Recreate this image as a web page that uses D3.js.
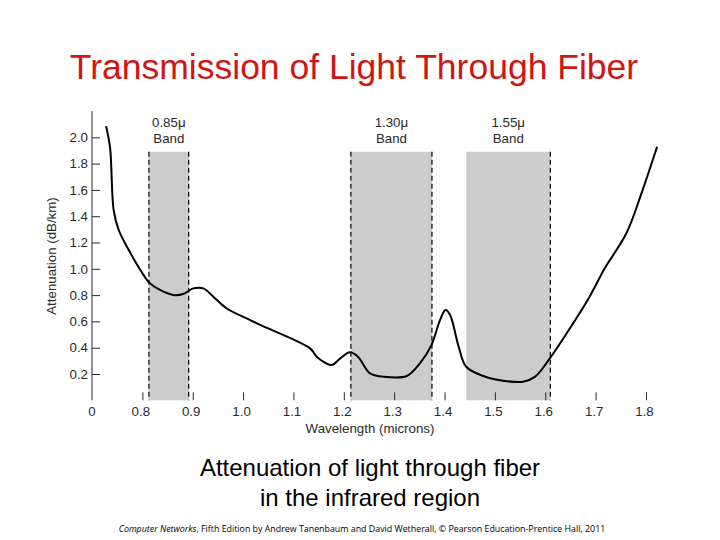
<!DOCTYPE html>
<html><head><meta charset="utf-8">
<script src="https://cdn.jsdelivr.net/npm/d3@7/dist/d3.min.js"></script>
<style>body{margin:0;background:#fff}svg{display:block}</style>
</head><body>
<svg id="c" width="720" height="540"></svg>
<script>
const wavelength = [0.728,0.736,0.743,0.753,0.773,0.796,0.815,0.835,0.861,0.881,0.901,0.921,0.941,0.967,1.014,1.034,1.133,1.146,1.159,1.176,1.193,1.212,1.228,1.252,1.278,1.325,1.351,1.374,1.391,1.402,1.411,1.428,1.443,1.477,1.516,1.556,1.58,1.609,1.649,1.688,1.709,1.718,1.761,1.791,1.822];
const attenuation = [2.085,1.916,1.447,1.295,1.143,0.991,0.89,0.839,0.801,0.808,0.851,0.851,0.788,0.70,0.61,0.573,0.395,0.332,0.294,0.268,0.319,0.365,0.332,0.205,0.18,0.185,0.281,0.42,0.61,0.687,0.649,0.408,0.255,0.185,0.149,0.141,0.18,0.319,0.548,0.788,0.94,1.004,1.27,1.574,1.928];
const xTicks = [0.8,0.9,1.0,1.1,1.2,1.3,1.4,1.5,1.6,1.7,1.8];
const yTicks = [0.2,0.4,0.6,0.8,1.0,1.2,1.4,1.6,1.8,2.0];
const bandStart = [0.813,1.214,1.443];
const bandEnd = [0.892,1.375,1.61];
const bandTop = [1.89,1.89,1.89];
const bandName = ["0.85\u03bc","1.30\u03bc","1.55\u03bc"];
const bandLeftDash = [true,true,false];

const svg = d3.select("#c");
const x = d3.scaleLinear().domain([0.7,1.8]).range([92,646]);
const y = d3.scaleLinear().domain([0,2.2]).range([400.3,111]);
const axisColor = "#2a2a2a";
const font = "Liberation Sans, Arial, sans-serif";
const fs = 13.3;

svg.append("text").attr("x",354).attr("y",78.5).attr("text-anchor","middle")
  .attr("font-family",font).attr("font-size",35.5).attr("fill","#d01515")
  .text("Transmission of Light Through Fiber");

// bands
const bands = d3.range(bandStart.length).map(i=>({s:bandStart[i],e:bandEnd[i],t:bandTop[i],n:bandName[i],l:bandLeftDash[i]}));
const bg = svg.append("g");
bg.selectAll("rect").data(bands).join("rect")
  .attr("x",d=>x(d.s)).attr("width",d=>x(d.e)-x(d.s))
  .attr("y",d=>y(d.t)).attr("height",d=>y(0)-y(d.t))
  .attr("fill","#cccccc");
bands.forEach(d=>{
  const xs = d.l ? [d.s,d.e] : [d.e];
  xs.forEach(v=>{
    bg.append("line").attr("x1",x(v)).attr("x2",x(v)).attr("y1",y(d.t)).attr("y2",y(0))
      .attr("stroke","#000").attr("stroke-width",1.2).attr("stroke-dasharray","5,3");
  });
  const cx = (x(d.s)+x(d.e))/2;
  bg.append("text").attr("x",cx).attr("y",127).attr("text-anchor","middle")
    .attr("font-family",font).attr("font-size",fs).attr("fill",axisColor).text(d.n);
  bg.append("text").attr("x",cx).attr("y",143).attr("text-anchor","middle")
    .attr("font-family",font).attr("font-size",fs).attr("fill",axisColor).text("Band");
});

// y axis
const yAxis = d3.axisRight(y).tickValues(yTicks).tickSize(8).tickFormat(d3.format(".1f"));
const ya = svg.append("g").attr("transform",`translate(${x(0.7)},0)`).call(yAxis);
ya.select(".domain").attr("d",`M0,${y(2.2)}V${y(0)}`).attr("stroke",axisColor);
ya.selectAll(".tick line").attr("stroke",axisColor);
ya.selectAll(".tick text").attr("x",-4).attr("text-anchor","end")
  .attr("font-family",font).attr("font-size",fs).attr("fill",axisColor);

// x axis
const xAxis = d3.axisTop(x).tickValues(xTicks).tickSize(8).tickFormat(d3.format(".1f"));
const xa = svg.append("g").attr("transform",`translate(0,${y(0)})`).call(xAxis);
xa.select(".domain").remove();
xa.selectAll(".tick line").attr("stroke",axisColor);
xa.selectAll(".tick text").attr("y",11).attr("dy","0.32em").attr("x",-2)
  .attr("font-family",font).attr("font-size",fs).attr("fill",axisColor);
svg.append("text").attr("x",x(0.7)).attr("y",y(0)+11).attr("dy","0.32em").attr("text-anchor","middle")
  .attr("font-family",font).attr("font-size",fs).attr("fill",axisColor).text("0");

svg.append("text").attr("x",370).attr("y",433).attr("text-anchor","middle")
  .attr("font-family",font).attr("font-size",fs).attr("fill",axisColor).text("Wavelength (microns)");
svg.append("text").attr("transform","translate(56,256) rotate(-90)").attr("text-anchor","middle")
  .attr("font-family",font).attr("font-size",fs).attr("fill",axisColor).text("Attenuation (dB/km)");

// curve
const pts = wavelength.map((w,i)=>[w,attenuation[i]]);
const line = d3.line().x(d=>x(d[0])).y(d=>y(d[1])).curve(d3.curveCatmullRom.alpha(0.5));
svg.append("path").attr("d",line(pts)).attr("fill","none").attr("stroke","#000").attr("stroke-width",2);

// captions
svg.append("text").attr("x",370).attr("y",476).attr("text-anchor","middle")
  .attr("font-family",font).attr("font-size",24).attr("fill","#000").text("Attenuation of light through fiber");
svg.append("text").attr("x",370).attr("y",506).attr("text-anchor","middle")
  .attr("font-family",font).attr("font-size",24).attr("fill","#000").text("in the infrared region");
const fn = svg.append("text").attr("x",362).attr("y",532).attr("text-anchor","middle")
  .attr("font-family","Open Sans, sans-serif").attr("font-size",8.85).attr("fill","#000");
fn.append("tspan").attr("font-style","italic").text("Computer Networks");
fn.append("tspan").text(", Fifth Edition by Andrew Tanenbaum and David Wetherall, \u00a9 Pearson Education-Prentice Hall, 2011");
</script>
</body></html>
